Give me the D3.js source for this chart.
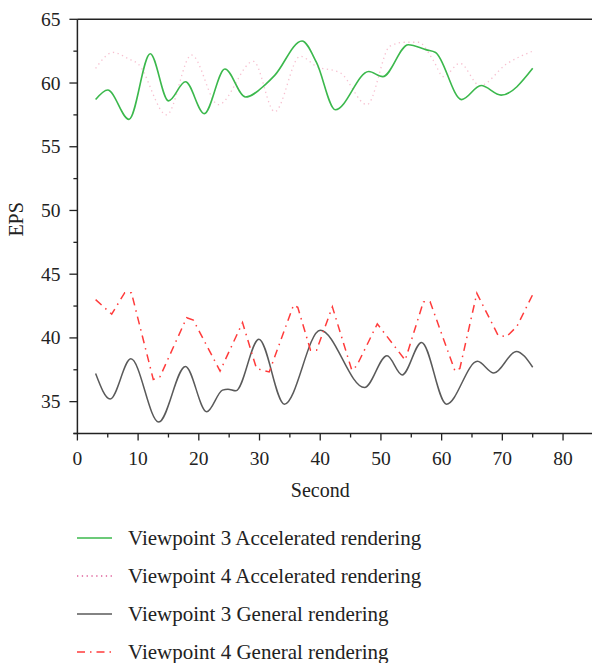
<!DOCTYPE html>
<html>
<head>
<meta charset="utf-8">
<script src="https://cdn.jsdelivr.net/npm/d3@7"></script>
<style>
  html, body { margin: 0; padding: 0; background: #fff; }
  svg { display: block; }
  text { font-family: "Liberation Serif", "DejaVu Serif", serif; fill: #222; }
</style>
</head>
<body>
<svg id="chart" width="592" height="663"></svg>
<script>
// ---- Data ----
const xTicks = [0, 10, 20, 30, 40, 50, 60, 70, 80];
const yTicks = [35, 40, 45, 50, 55, 60, 65];
const xLabel = "Second";
const yLabel = "EPS";

const seriesNames = [
  "Viewpoint 3 Accelerated rendering",
  "Viewpoint 4 Accelerated rendering",
  "Viewpoint 3 General rendering",
  "Viewpoint 4 General rendering"
];

// Viewpoint 3 Accelerated rendering (green, smooth)
const v3AccX = [3, 5, 8.5, 12, 15, 17.8, 20.9, 24.3, 27.7, 31, 32.5, 37, 39.4, 42.5, 48, 50.3, 54.5, 57.5, 59, 63.3, 66.5, 69.8, 75];
const v3AccY = [58.7, 59.45, 57.15, 62.3, 58.6, 60.1, 57.6, 61.1, 58.9, 59.9, 60.6, 63.3, 61.6, 57.9, 60.9, 60.5, 63.0, 62.6, 62.4, 58.7, 59.8, 59.05, 61.15];

// Viewpoint 4 Accelerated rendering (pink, dotted)
const v4AccX = [3, 5.9, 8.4, 10, 14.7, 18.8, 23.2, 29, 32.5, 36.7, 39.4, 43.3, 47.7, 51.5, 54, 56.2, 58.6, 60.3, 63, 66.3, 70.7, 75];
const v4AccY = [61.15, 62.4, 61.9, 61.5, 57.5, 62.2, 58.3, 61.7, 57.75, 62.1, 61.3, 60.8, 58.3, 62.9, 63.2, 63.2, 61.8, 60.5, 61.55, 59.8, 61.5, 62.5];

// Viewpoint 3 General rendering (grey, smooth)
const v3GenX = [3, 5.4, 8.8, 13.4, 17.8, 21.3, 23.9, 24.8, 26.1, 29.9, 34.1, 40, 47.3, 51, 53.5, 56.7, 60.8, 65.9, 68.6, 72.3, 75];
const v3GenY = [37.2, 35.2, 38.36, 33.4, 37.76, 34.2, 35.9, 35.98, 35.85, 39.9, 34.8, 40.6, 36.1, 38.6, 37.1, 39.65, 34.8, 38.16, 37.24, 38.94, 37.7];

// Viewpoint 4 General rendering (red, dash-dot)
const v4GenX = [3, 5.65, 7.8, 8.9, 12.5, 13.6, 18, 19.1, 23.5, 27.2, 29.5, 31.6, 35.6, 36.3, 38.4, 39.4, 42, 45.2, 46, 49.4, 54, 57, 58.1, 62.2, 63, 65.8, 69.3, 70.7, 72.4, 75];
const v4GenY = [43.0, 41.87, 43.55, 43.55, 36.74, 36.95, 41.58, 41.4, 37.4, 41.2, 37.6, 37.33, 42.57, 42.4, 39.04, 39.04, 42.44, 37.47, 37.8, 41.1, 38.26, 42.84, 42.84, 37.4, 37.6, 43.5, 40.2, 40.1, 40.9, 43.4];

// ---- Chart ----
const svg = d3.select("#chart");
const x = d3.scaleLinear().domain([0, 85]).range([77.4, 593.4]);
const y = d3.scaleLinear().domain([32.5, 65]).range([433.5, 19.3]);

const axisColor = "#222";

// top frame line
svg.append("line")
  .attr("x1", x(0)).attr("x2", 592)
  .attr("y1", y(65)).attr("y2", y(65))
  .attr("stroke", axisColor).attr("stroke-width", 1.5);

// X axis
const gx = svg.append("g").attr("transform", `translate(0,${y(32.5)})`);
gx.append("line").attr("x1", x(0) - 4).attr("x2", 592).attr("y1", 0).attr("y2", 0)
  .attr("stroke", axisColor).attr("stroke-width", 1.5);
const xMinor = d3.range(5, 85, 10);
gx.selectAll(".xminor").data(xMinor).join("line")
  .attr("x1", d => x(d)).attr("x2", d => x(d)).attr("y1", 0).attr("y2", 4)
  .attr("stroke", axisColor).attr("stroke-width", 1.3);
gx.selectAll(".xmajor").data(xTicks).join("line")
  .attr("x1", d => x(d)).attr("x2", d => x(d)).attr("y1", 0).attr("y2", 7)
  .attr("stroke", axisColor).attr("stroke-width", 1.3);
gx.selectAll(".xlab").data(xTicks).join("text")
  .attr("x", d => x(d)).attr("y", 31.5)
  .attr("text-anchor", "middle").attr("font-size", 19.5)
  .text(d => d);

// Y axis
const gy = svg.append("g").attr("transform", `translate(${x(0)},0)`);
gy.append("line").attr("x1", 0).attr("x2", 0).attr("y1", y(65)).attr("y2", y(32.5))
  .attr("stroke", axisColor).attr("stroke-width", 1.5);
const yMinor = d3.range(37.5, 65, 5).concat([32.5]);
gy.selectAll(".yminor").data(yMinor).join("line")
  .attr("x1", 0).attr("x2", -4).attr("y1", d => y(d)).attr("y2", d => y(d))
  .attr("stroke", axisColor).attr("stroke-width", 1.3);
gy.selectAll(".ymajor").data(yTicks).join("line")
  .attr("x1", 0).attr("x2", -8).attr("y1", d => y(d)).attr("y2", d => y(d))
  .attr("stroke", axisColor).attr("stroke-width", 1.3);
gy.selectAll(".ylab").data(yTicks).join("text")
  .attr("x", -17).attr("y", d => y(d) + 6.5)
  .attr("text-anchor", "end").attr("font-size", 19.5)
  .text(d => d);

// axis titles
svg.append("text").attr("x", x(40)).attr("y", 497)
  .attr("text-anchor", "middle").attr("font-size", 20).text(xLabel);
svg.append("text").attr("transform", `translate(23,${y(49.3)}) rotate(-90)`)
  .attr("text-anchor", "middle").attr("font-size", 20).text(yLabel);

// series
const smooth = d3.line().x(d => x(d[0])).y(d => y(d[1])).curve(d3.curveMonotoneX);
const straight = d3.line().x(d => x(d[0])).y(d => y(d[1])).curve(d3.curveLinear);
const zip = (xs, ys) => xs.map((v, i) => [v, ys[i]]);

const styles = [
  { data: zip(v3AccX, v3AccY), color: "#3bb84c", width: 1.6, dash: null, opacity: 1, gen: smooth },
  { data: zip(v4AccX, v4AccY), color: "#f07fa0", width: 1.3, dash: "1.3,3.5", opacity: 0.5, gen: smooth },
  { data: zip(v3GenX, v3GenY), color: "#5a5a5a", width: 1.5, dash: null, opacity: 1, gen: smooth },
  { data: zip(v4GenX, v4GenY), color: "#ff3b3b", width: 1.5, dash: "8,5,1.5,5", opacity: 1, gen: straight }
];

// draw order: pink dotted first, then others
[1, 0, 2, 3].forEach(i => {
  const s = styles[i];
  svg.append("path").datum(s.data)
    .attr("d", s.gen)
    .attr("fill", "none")
    .attr("stroke", s.color)
    .attr("stroke-width", s.width)
    .attr("stroke-opacity", s.opacity)
    .attr("stroke-dasharray", s.dash);
});

// legend
const legY = [538, 576, 614, 652];
const leg = svg.append("g");
seriesNames.forEach((name, i) => {
  const s = styles[i];
  leg.append("line")
    .attr("x1", 77).attr("x2", 112)
    .attr("y1", legY[i]).attr("y2", legY[i])
    .attr("stroke", i === 1 ? "#e0609a" : s.color).attr("stroke-width", s.width)
    .attr("stroke-dasharray", s.dash);
  leg.append("text")
    .attr("x", 128).attr("y", legY[i] + 7)
    .attr("font-size", 21)
    .text(name);
});
</script>
</body>
</html>
